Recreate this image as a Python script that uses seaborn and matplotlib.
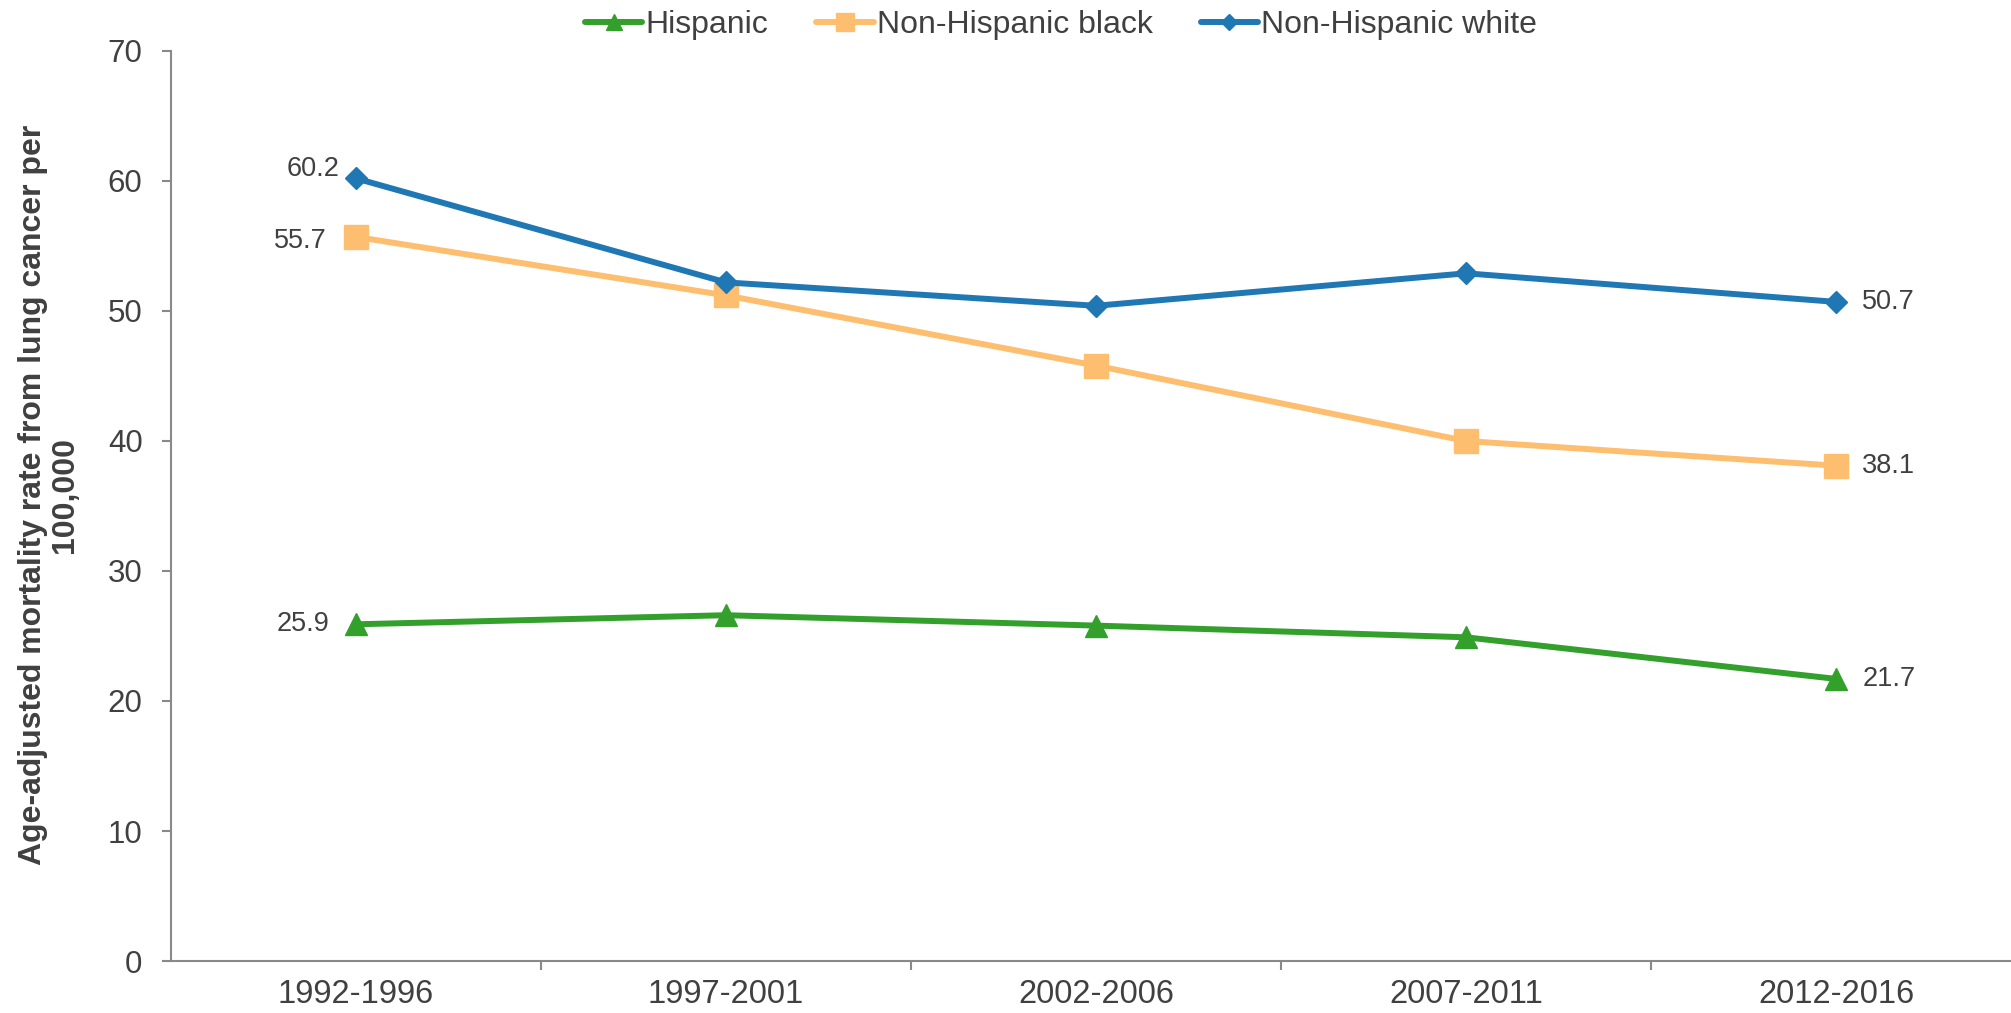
import matplotlib
matplotlib.use("Agg")
import matplotlib.pyplot as plt
import seaborn as sns
import pandas as pd
from matplotlib.lines import Line2D

# data
periods = ["1992-1996", "1997-2001", "2002-2006", "2007-2011", "2012-2016"]
hispanic = [25.9, 26.6, 25.8, 24.9, 21.7]
nh_black = [55.7, 51.2, 45.8, 40.0, 38.1]
nh_white = [60.2, 52.2, 50.4, 52.9, 50.7]
groups = ["Hispanic", "Non-Hispanic black", "Non-Hispanic white"]

colors = {"Hispanic": "#33a02c", "Non-Hispanic black": "#fdbf6f", "Non-Hispanic white": "#1f78b4"}
markers = {"Hispanic": "^", "Non-Hispanic black": "s", "Non-Hispanic white": "D"}
msizes = {"Hispanic": 15.5, "Non-Hispanic black": 17, "Non-Hispanic white": 11.5}

df = pd.DataFrame({
    "period": periods * 3,
    "rate": hispanic + nh_black + nh_white,
    "group": [g for g in groups for _ in periods],
})

sns.set_style("white")
plt.rcParams["font.family"] = ["Liberation Sans", "DejaVu Sans"]
text_col = "#404040"
axis_col = "#898989"

fig = plt.figure(figsize=(20.11, 10.13), dpi=100)
ax = fig.add_axes([171 / 2011, 52 / 1013, 1850 / 2011, 910 / 1013])

sns.lineplot(data=df, x="period", y="rate", hue="group", style="group",
             hue_order=groups, style_order=groups, palette=colors,
             markers=markers, dashes=False, linewidth=4.3, sort=False,
             markeredgewidth=1, ax=ax, legend=False)

for line, g in zip(ax.lines, groups):
    line.set_markersize(msizes[g])
    line.set_markeredgecolor(colors[g])

ax.set_xlim(-0.5, 4.5)
ax.set_ylim(0, 70)
ax.set_yticks(range(0, 71, 10))
ax.set_xlabel("")
ax.set_ylabel("Age-adjusted mortality rate from lung cancer per\n100,000",
              fontsize=23, fontweight="bold", color=text_col, linespacing=1.1)
ax.yaxis.set_label_coords(-0.049, 0.512)

for side in ["top", "right"]:
    ax.spines[side].set_visible(False)
for side in ["left", "bottom"]:
    ax.spines[side].set_color(axis_col)
    ax.spines[side].set_linewidth(1.5)

ax.tick_params(axis="y", length=6.5, width=1.5, color=axis_col, direction="out",
               labelsize=22.5, labelcolor=text_col, pad=14, left=True)
ax.tick_params(axis="x", which="major", length=0, labelsize=23.5,
               labelcolor=text_col, pad=13)
ax.set_xticks([0.5, 1.5, 2.5, 3.5], minor=True)
ax.tick_params(axis="x", which="minor", length=6.5, width=1.5, color=axis_col,
               direction="out", bottom=True)

# data labels at the end points
lab_kw = dict(textcoords="offset points", fontsize=19.5, color=text_col, va="center")
ax.annotate(f"{nh_white[0]}", (0, nh_white[0]), xytext=(-12, 6.5), ha="right", **lab_kw)
ax.annotate(f"{nh_black[0]}", (0, nh_black[0]), xytext=(-21, -3), ha="right", **lab_kw)
ax.annotate(f"{hispanic[0]}", (0, hispanic[0]), xytext=(-19, 0), ha="right", **lab_kw)
ax.annotate(f"{nh_white[-1]}", (4, nh_white[-1]), xytext=(19, 0), ha="left", **lab_kw)
ax.annotate(f"{nh_black[-1]}", (4, nh_black[-1]), xytext=(19, 0), ha="left", **lab_kw)
ax.annotate(f"{hispanic[-1]}", (4, hispanic[-1]), xytext=(19, 0), ha="left", **lab_kw)

handles = [Line2D([], [], color=colors[g], marker=markers[g], lw=4.3,
                  markersize=msizes[g] * 0.75, markeredgecolor=colors[g]) for g in groups]
fig.legend(handles, groups, loc="center", bbox_to_anchor=(1061 / 2011, 1 - 25 / 1013),
           ncol=3, frameon=False, fontsize=23, handlelength=1.8, handletextpad=0.1,
           columnspacing=1.5, labelcolor=text_col)

fig.savefig("out.png", dpi=100)
plt.close(fig)
